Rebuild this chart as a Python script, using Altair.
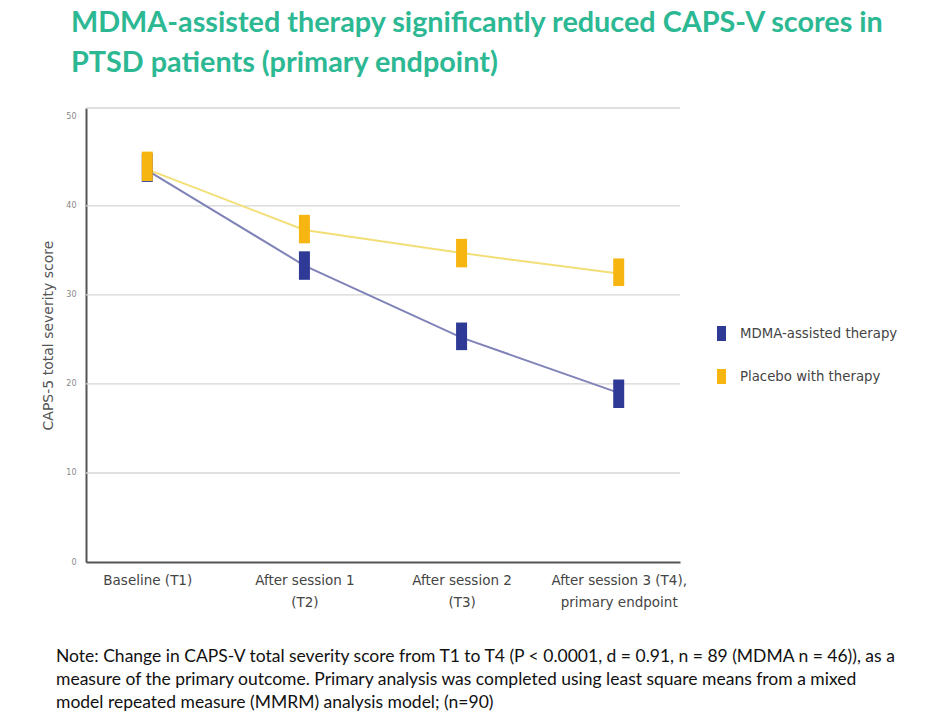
import altair as alt
import pandas as pd

# ---- data ----
categories = ["T1", "T2", "T3", "T4"]
category_labels = [
    ["Baseline (T1)"],
    ["After session 1", "(T2)"],
    ["After session 2", "(T3)"],
    ["After session 3 (T4),", "primary endpoint"],
]
groups = ["MDMA-assisted therapy", "Placebo with therapy"]

mdma_mean = [44.0, 33.3, 25.2, 19.0]
mdma_low = [42.7, 31.7, 23.8, 17.3]
mdma_high = [45.9, 34.9, 26.9, 20.5]

placebo_mean = [44.1, 37.3, 34.7, 32.4]
placebo_low = [42.8, 35.8, 33.1, 31.0]
placebo_high = [46.1, 39.0, 36.3, 34.1]

y_ticks = [0, 10, 20, 30, 40, 50]
grid_values = [10, 20, 30, 40, 51]

title_lines = [
    "MDMA-assisted therapy significantly reduced CAPS-V scores in",
    "PTSD patients (primary endpoint)",
]
note_lines = [
    "Note: Change in CAPS-V total severity score from T1 to T4 (P < 0.0001, d = 0.91, n = 89 (MDMA n = 46)), as a",
    "measure of the primary outcome. Primary analysis was completed using least square means from a mixed",
    "model repeated measure (MMRM) analysis model; (n=90)",
]

bar_colors = ["#2f3a96", "#f7b512"]
line_colors = ["#8083b8", "#f2df78"]

rows = []
for i, c in enumerate(categories):
    rows.append(dict(cat=c, group=groups[0], mean=mdma_mean[i], low=mdma_low[i], high=mdma_high[i]))
    rows.append(dict(cat=c, group=groups[1], mean=placebo_mean[i], low=placebo_low[i], high=placebo_high[i]))
df = pd.DataFrame(rows)

grid_df = pd.DataFrame({"g": grid_values})
note_df = pd.DataFrame({"t": ["\n".join(note_lines)]})

label_expr = ""
for c, lab in zip(categories, category_labels):
    label_expr += f"datum.value == '{c}' ? {lab!r} : "
label_expr += "datum.value"

AXFONT = "DejaVu Sans"

x_enc = alt.X(
    "cat:N",
    sort=categories,
    scale=alt.Scale(type="point", padding=0.39),
    axis=alt.Axis(
        title=None,
        labelExpr=label_expr,
        labelFont=AXFONT,
        labelFontSize=13.5,
        labelColor="#444444",
        labelLineHeight=22,
        labelPadding=11,
        ticks=False,
        domainColor="#555555",
        domainWidth=2,
        labelAngle=0,
    ),
)
y_scale = alt.Scale(domain=[0, 51], nice=False)
y_axis = alt.Axis(
    values=y_ticks,
    grid=False,
    ticks=False,
    title="CAPS-5 total severity score",
    titleFont=AXFONT,
    titleFontSize=14,
    titleFontWeight="normal",
    titleColor="#555555",
    titlePadding=10,
    labelFont=AXFONT,
    labelFontSize=8,
    labelColor="#888888",
    labelPadding=10,
    domainColor="#555555",
    domainWidth=2,
)

color_bar = alt.Color(
    "group:N",
    scale=alt.Scale(domain=groups, range=bar_colors),
    legend=alt.Legend(
        title=None,
        orient="none",
        legendX=628,
        legendY=218,
        symbolType="M-0.6,-1L0.6,-1L0.6,1L-0.6,1Z",
        symbolSize=225,
        symbolStrokeWidth=0,
        labelFont=AXFONT,
        labelFontSize=13.3,
        labelColor="#444444",
        labelOffset=11,
        rowPadding=28,
        labelLimit=300,
    ),
)

grid = alt.Chart(grid_df).mark_rule(color="#d6d6d6", strokeWidth=1.3).encode(
    y=alt.Y("g:Q", scale=y_scale, axis=y_axis),
    x=alt.value(0),
    x2=alt.value(594),
)

lines = alt.Chart(df).mark_line(strokeWidth=2).encode(
    x=x_enc,
    y=alt.Y("mean:Q", scale=y_scale),
    color=alt.Color("group:N", scale=alt.Scale(domain=groups, range=line_colors), legend=None),
    detail="group:N",
)

bars = alt.Chart(df).mark_bar(size=11).encode(
    x=x_enc,
    y=alt.Y("low:Q", scale=y_scale),
    y2="high:Q",
    color=color_bar,
    order=alt.Order("group:N"),
)

note = alt.Chart(note_df).mark_text(
    align="left",
    baseline="middle",
    font="Lato",
    fontSize=17.5,
    color="#111111",
    lineBreak="\n",
    lineHeight=23,
).encode(
    x=alt.value(-30),
    y=alt.value(549),
    text="t:N",
)

chart = (
    alt.layer(grid, lines, bars, note)
    .resolve_scale(color="independent")
    .properties(
        width=594,
        height=454,
        background="white",
        padding={"left": 78, "top": 100, "right": 257, "bottom": 150},
        autosize=alt.AutoSizeParams(type="none"),
        title=alt.Title(
            text=title_lines,
            anchor="start",
            frame="group",
            font="Lato",
            fontSize=28.8,
            fontWeight="bold",
            color="#2db894",
            lineHeight=40,
            dx=-15,
            offset=30,
        ),
    )
    .configure_view(stroke="transparent", strokeWidth=0)
)

chart.save("out.html", embed_options={"renderer": "svg", "actions": False})
